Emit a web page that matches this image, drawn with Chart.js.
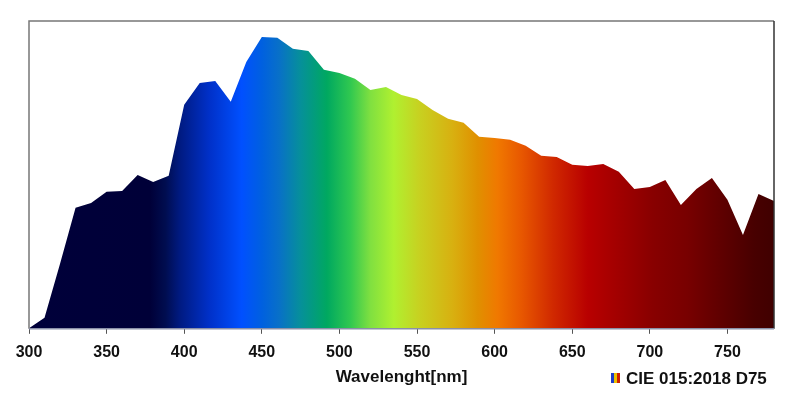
<!DOCTYPE html>
<html>
<head>
<meta charset="utf-8">
<script src="https://cdn.jsdelivr.net/npm/chart.js@4/dist/chart.umd.min.js"></script>
<style>
  html, body { margin: 0; padding: 0; background: #fff; }
  #wrap { width: 800px; height: 409px; position: relative; }
</style>
</head>
<body>
<div id="wrap"><canvas id="c" width="800" height="409"></canvas></div>
<script>
// ---- data ----
const wavelengths = [300,310,320,330,340,350,360,370,380,390,400,410,420,430,440,450,460,470,480,490,500,510,520,530,540,550,560,570,580,590,600,610,620,630,640,650,660,670,680,690,700,710,720,730,740,750,760,770,780];
const spd = [0.3,5.0,29.7,55.3,57.5,62.6,63.0,70.3,67.1,69.9,102.3,112.3,113.2,103.7,121.9,133.3,132.9,127.9,126.9,118.3,116.9,114.2,109.1,110.5,106.8,105.0,100.0,95.9,94.1,87.7,87.2,86.3,83.6,79.0,78.5,74.9,74.4,75.3,71.7,63.9,64.8,68.0,56.6,63.9,68.9,58.9,42.9,61.6,58.4];
const seriesLabel = 'CIE 015:2018 D75';
const axisTitle = 'Wavelenght[nm]';
const xTickValues = [300,350,400,450,500,550,600,650,700,750];

// spectrum colour stops (style)
const spectrumStops = [
  [300,'#00003a'],[378,'#000038'],[388,'#000d50'],[397,'#001a80'],[416,'#0030c8'],
  [437,'#0050ff'],[450,'#0060e0'],[461,'#0870c8'],[475,'#06909a'],[492,'#00a860'],
  [507,'#30c850'],[520,'#80e040'],[535,'#b0f030'],[552,'#c8d020'],[573,'#d8b010'],
  [589,'#e09000'],[602,'#f07800'],[617,'#e85800'],[638,'#d02800'],[660,'#b80000'],
  [681,'#a00000'],[702,'#880000'],[724,'#780000'],[745,'#600000'],[767,'#480000'],[780,'#400000']
];

function spectrumFill(ctx) {
  const chart = ctx.chart;
  const area = chart.chartArea;
  if (!area) return '#000';
  const xs = chart.scales.x;
  const g = chart.ctx.createLinearGradient(area.left, 0, area.right, 0);
  const w = area.right - area.left;
  spectrumStops.forEach(([nm, col]) => {
    const off = (xs.getPixelForValue(nm) - area.left) / w;
    g.addColorStop(Math.min(1, Math.max(0, off)), col);
  });
  return g;
}

const framePlugin = {
  id: 'frame',
  afterDatasetsDraw(chart) {
    const {ctx, chartArea: a} = chart;
    ctx.save();
    ctx.lineWidth = 1.5;
    ctx.strokeStyle = '#777';
    ctx.beginPath();
    ctx.moveTo(a.left, a.bottom); ctx.lineTo(a.left, a.top); ctx.lineTo(a.right, a.top);
    ctx.stroke();
    ctx.strokeStyle = '#333';
    ctx.beginPath();
    ctx.moveTo(a.right, a.top); ctx.lineTo(a.right, a.bottom);
    ctx.stroke();
    ctx.strokeStyle = '#8a90a8';
    ctx.beginPath();
    ctx.moveTo(a.left, a.bottom); ctx.lineTo(a.right, a.bottom);
    ctx.stroke();
    ctx.restore();
  },
  afterDraw(chart) {
    const ctx = chart.ctx;
    const label = chart.data.datasets[0].label;
    ctx.save();
    const bx = 611, by = 373, bh = 10;
    const cols = ['#1e3cc8', '#e8c000', '#d02000'];
    cols.forEach((c, i) => { ctx.fillStyle = c; ctx.fillRect(bx + i * 3, by, 3, bh); });
    ctx.fillStyle = '#111';
    ctx.font = 'bold 17px "Liberation Sans", Arial, sans-serif';
    ctx.textBaseline = 'middle';
    ctx.textAlign = 'left';
    ctx.fillText(label, 626, 379);
    ctx.restore();
  }
};

new Chart(document.getElementById('c'), {
  type: 'line',
  data: {
    datasets: [{
      label: seriesLabel,
      data: wavelengths.map((w, i) => ({x: w, y: spd[i]})),
      fill: 'origin',
      backgroundColor: spectrumFill,
      borderWidth: 0,
      borderColor: 'rgba(0,0,0,0)',
      pointRadius: 0,
      tension: 0
    }]
  },
  options: {
    responsive: false,
    animation: false,
    events: [],
    layout: { padding: { left: 29, right: 26, top: 21, bottom: 23 } },
    plugins: { legend: { display: false }, tooltip: { enabled: false } },
    scales: {
      x: {
        type: 'linear',
        min: 300, max: 780,
        afterBuildTicks(scale) { scale.ticks = xTickValues.map(v => ({value: v})); },
        ticks: {
          color: '#111',
          font: { family: '"Liberation Sans", Arial, sans-serif', size: 16, weight: 'bold', lineHeight: 1.0 },
          padding: 11,
          maxRotation: 0,
          autoSkip: false
        },
        grid: { drawOnChartArea: false, drawTicks: true, tickLength: 5, color: '#555', tickColor: '#555' },
        border: { display: false },
        title: {
          display: true,
          text: axisTitle,
          color: '#111',
          font: { family: '"Liberation Sans", Arial, sans-serif', size: 17, weight: 'bold', lineHeight: 0.6 },
          padding: { top: 0, bottom: 4 }
        }
      },
      y: {
        display: false,
        min: 0, max: 140.6
      }
    }
  },
  plugins: [framePlugin]
});
</script>
</body>
</html>
